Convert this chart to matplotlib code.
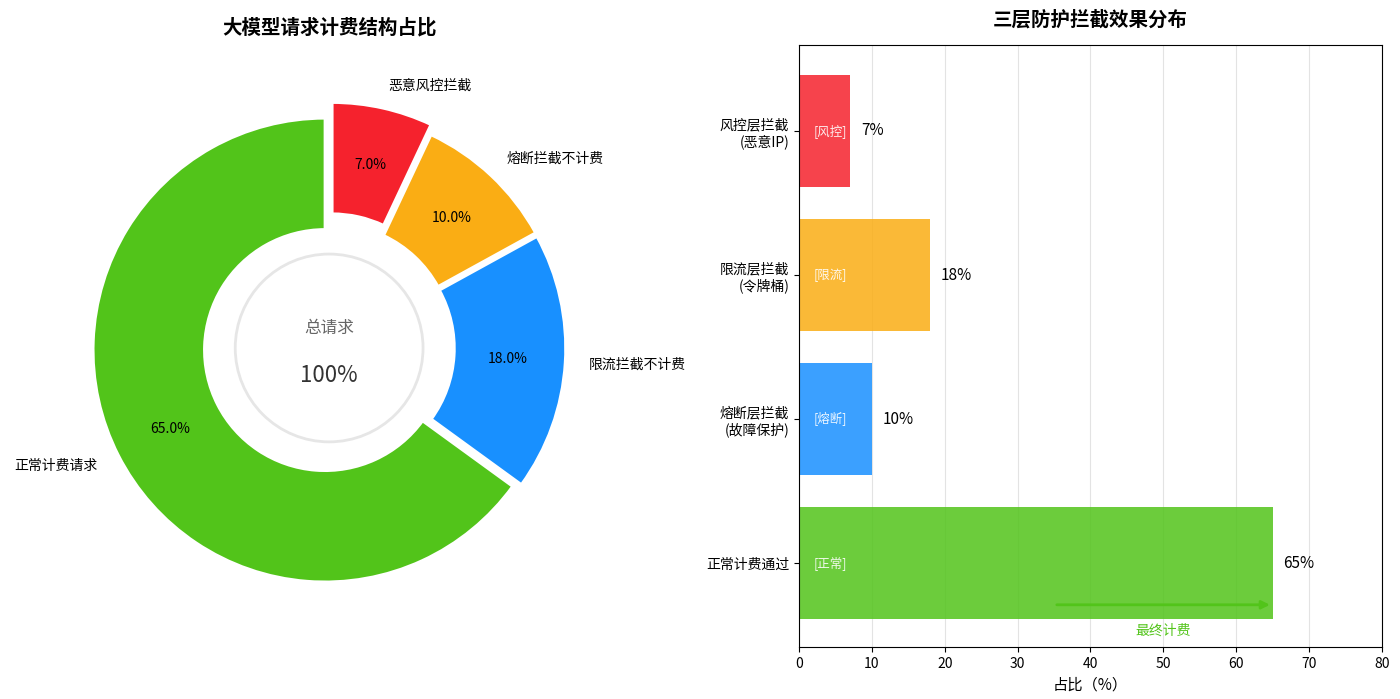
import numpy as np
import matplotlib
matplotlib.use("Agg")
import matplotlib.pyplot as plt
from matplotlib.patches import Circle

plt.rcParams["font.family"] = ["Noto Sans CJK SC", "DejaVu Sans"]
plt.rcParams["axes.unicode_minus"] = False

# ---- data ----
pie_labels = ["正常计费请求", "限流拦截不计费", "熔断拦截不计费", "恶意风控拦截"]
pie_values = [65, 18, 10, 7]
pie_colors = ["#52c41a", "#1890ff", "#faad14", "#f5222d"]
pie_explode = [0.02, 0.02, 0.02, 0.06]

bar_labels = ["风控层拦截\n(恶意IP)", "限流层拦截\n(令牌桶)", "熔断层拦截\n(故障保护)", "正常计费通过"]
bar_values = [7, 18, 10, 65]
bar_tags = ["[风控]", "[限流]", "[熔断]", "[正常]"]
bar_colors = ["#f5222d", "#faad14", "#1890ff", "#52c41a"]

fig = plt.figure(figsize=(14, 6.99), dpi=100)

# ---- left: donut ----
ax1 = fig.add_axes([0.0114, 0.0544, 0.4474, 0.8956])
ax1.pie(
    pie_values,
    labels=pie_labels,
    colors=pie_colors,
    explode=pie_explode,
    startangle=90,
    autopct="%1.1f%%",
    pctdistance=0.75,
    labeldistance=1.1,
    wedgeprops=dict(width=0.48, edgecolor="white", linewidth=2),
    textprops=dict(fontsize=10),
)
ax1.add_patch(Circle((0, 0), 0.405, fill=False, edgecolor="#e6e6e6", linewidth=2))
ax1.text(0, 0.085, "总请求", ha="center", va="center", fontsize=12, color="#666666")
ax1.text(0, -0.12, "100%", ha="center", va="center", fontsize=16, color="#333333")
ax1.set_xlim(-1.35, 1.35)
ax1.set_ylim(-1.35, 1.35)
ax1.set_aspect("equal")
ax1.axis("off")
fig.text(0.2357, 0.96, "大模型请求计费结构占比", ha="center", va="center",
         fontsize=14, fontweight="bold")

# ---- right: horizontal bars ----
ax2 = fig.add_axes([0.5707, 0.0744, 0.4164, 0.8612])
y = np.arange(len(bar_values))
ax2.barh(y, bar_values, height=0.78, color=bar_colors, alpha=0.85)
for i, (v, tag) in enumerate(zip(bar_values, bar_tags)):
    ax2.text(v + 1.5, i, f"{v}%", va="center", ha="left", fontsize=11)
    ax2.text(2, i, tag, va="center", ha="left", fontsize=9, color="white", alpha=0.9)

ax2.annotate("", xy=(65, 3.29), xytext=(35, 3.29),
             arrowprops=dict(arrowstyle="-|>", color="#52c41a", lw=2, mutation_scale=12))
ax2.text(50, 3.47, "最终计费", ha="center", va="center", fontsize=10,
         color="#52c41a")

ax2.set_yticks(y)
ax2.set_yticklabels(bar_labels, fontsize=10)
ax2.set_ylim(3.583, -0.597)
ax2.set_xlim(0, 80)
ax2.set_xticks(np.arange(0, 81, 10))
ax2.tick_params(axis="x", labelsize=10)
ax2.set_xlabel("占比（%）", fontsize=11)
ax2.grid(axis="x", color="#dddddd", alpha=0.8, linewidth=0.8)
ax2.set_axisbelow(True)
fig.text(0.7786, 0.972, "三层防护拦截效果分布", ha="center", va="center",
         fontsize=14, fontweight="bold")

fig.savefig("out.png", dpi=100)
